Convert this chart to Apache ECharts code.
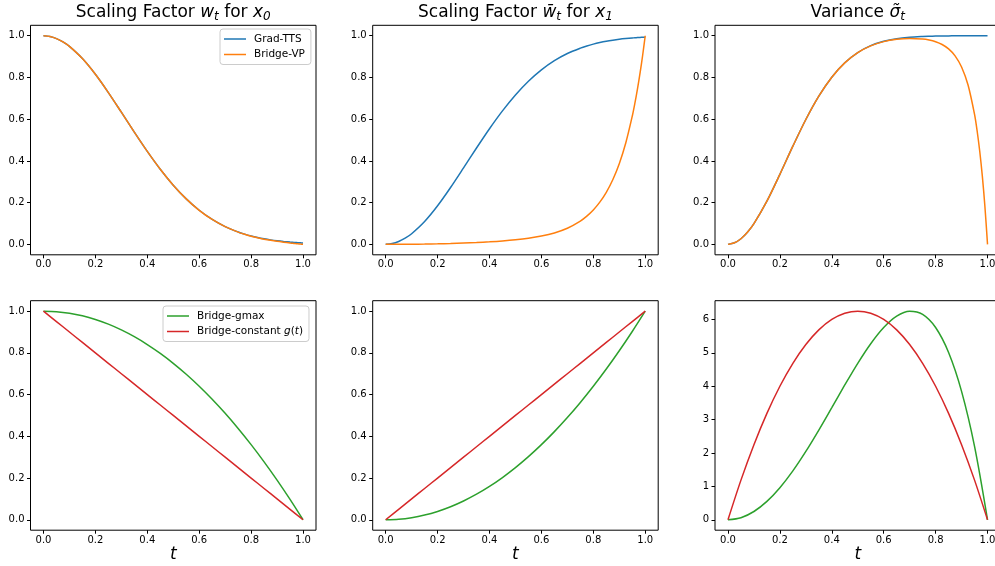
<!DOCTYPE html>
<html><head><meta charset="utf-8">
<script src="https://cdn.jsdelivr.net/npm/echarts@6/dist/echarts.min.js"></script>
<style>html,body{margin:0;padding:0;background:#fff}#c{width:995px;height:566px}</style>
</head><body><div id="c"></div>
<script>
// ---- data ----
const tTop = [0,0.025,0.05,0.075,0.1,0.15,0.2,0.25,0.3,0.35,0.4,0.45,0.5,0.55,0.6,0.65,0.7,0.75,0.775,0.8,0.825,0.85,0.875,0.9,0.925,0.95,0.96,0.97,0.98,0.99,1];
const gradW = [1,0.9963,0.9864,0.9705,0.9490,0.8905,0.8151,0.7276,0.6336,0.5381,0.4457,0.3602,0.2838,0.2182,0.1636,0.1196,0.0853,0.0594,0.0490,0.0403,0.0329,0.0267,0.0215,0.0172,0.0137,0.0108,0.0098,0.0089,0.0081,0.0074,0.0067];
const bridgeW = [1,0.9963,0.9864,0.9705,0.9490,0.8905,0.8151,0.7276,0.6336,0.5381,0.4457,0.3601,0.2837,0.2180,0.1633,0.1193,0.0848,0.0586,0.0481,0.0392,0.0315,0.0250,0.0194,0.0146,0.0105,0.0067,0.0054,0.0040,0.0027,0.0013,0];
const gradWbar = [0,0.0037,0.0136,0.0295,0.0510,0.1095,0.1849,0.2724,0.3664,0.4619,0.5543,0.6398,0.7162,0.7818,0.8364,0.8804,0.9147,0.9406,0.9510,0.9597,0.9671,0.9734,0.9785,0.9828,0.9863,0.9892,0.9902,0.9911,0.9919,0.9927,0.9933];
const bridgeWbar = [0,0.00005,0.0002,0.0004,0.0007,0.0015,0.0027,0.0043,0.0063,0.0088,0.0120,0.0161,0.0216,0.0291,0.0396,0.0548,0.0774,0.1117,0.1354,0.1649,0.2023,0.2495,0.3096,0.3866,0.4857,0.6141,0.6757,0.7441,0.8204,0.9053,1.0];
const gradVar = [0,0.0075,0.0271,0.0581,0.0994,0.2070,0.3357,0.4706,0.5986,0.7104,0.8013,0.8703,0.9194,0.9524,0.9732,0.9857,0.9927,0.9965,0.9976,0.9984,0.9989,0.9993,0.9995,0.9997,0.9998,0.9999,0.9999,0.9999,0.9999,0.99995,0.99996];
const bridgeVar = [0,0.0075,0.0271,0.0581,0.0994,0.2070,0.3357,0.4706,0.5986,0.7104,0.8013,0.8700,0.9190,0.9516,0.9717,0.9827,0.9867,0.9840,0.9793,0.9712,0.9580,0.9370,0.9037,0.8503,0.7639,0.6228,0.5434,0.4462,0.3270,0.1804,0];

const tBottom = [0,0.05,0.1,0.15,0.2,0.25,0.3,0.35,0.4,0.45,0.5,0.55,0.6,0.65,0.7,0.75,0.8,0.85,0.9,0.95,1];
const gmaxW = [1,0.9975,0.99,0.9775,0.96,0.9375,0.91,0.8775,0.84,0.7975,0.75,0.6975,0.64,0.5775,0.51,0.4375,0.36,0.2775,0.19,0.0975,0];
const constW = [1,0.95,0.9,0.85,0.8,0.75,0.7,0.65,0.6,0.55,0.5,0.45,0.4,0.35,0.3,0.25,0.2,0.15,0.1,0.05,0];
const gmaxWbar = [0,0.0025,0.01,0.0225,0.04,0.0625,0.09,0.1225,0.16,0.2025,0.25,0.3025,0.36,0.4225,0.49,0.5625,0.64,0.7225,0.81,0.9025,1];
const constWbar = [0,0.05,0.1,0.15,0.2,0.25,0.3,0.35,0.4,0.45,0.5,0.55,0.6,0.65,0.7,0.75,0.8,0.85,0.9,0.95,1];
const gmaxVar = [0,0.0623,0.2475,0.5498,0.96,1.4648,2.0475,2.6873,3.36,4.0373,4.6875,5.2748,5.76,6.0998,6.2475,6.1523,5.76,5.0123,3.8475,2.1998,0];
const constVar = [0,1.1875,2.25,3.1875,4,4.6875,5.25,5.6875,6,6.1875,6.25,6.1875,6,5.6875,5.25,4.6875,4,3.1875,2.25,1.1875,0];

const xTicks = [0,0.2,0.4,0.6,0.8,1.0];
const yTicksUnit = [0,0.2,0.4,0.6,0.8,1.0];
const yTicksVar = [0,1,2,3,4,5,6];

const topNames = ['Grad-TTS','Bridge-VP'];
const bottomNames = ['Bridge-gmax','Bridge-constant g(t)'];

// ---- layout / style ----
const FONT = 'DejaVu Sans';
const colLeft = [30.5, 372.7, 715];
const rowTop = [25.3, 300.7];
const W = 285.5, H = 229.5;
const C = {blue:'#1f77b4', orange:'#ff7f0e', green:'#2ca02c', red:'#d62728'};

const zip = (xs, ys) => xs.map((x,i)=>[x, ys[i]]);

const grids=[], xAxes=[], yAxes=[];
for (let r=0;r<2;r++) for (let c=0;c<3;c++) {
  const i = r*3+c;
  const isVar = (r===1 && c===2);
  grids.push({left:colLeft[c], top:rowTop[r], width:W, height:H, show:true,
    borderColor:'#000', borderWidth:1, backgroundColor:'transparent',
    containLabel:false, outerBoundsMode:'none'});
  xAxes.push({type:'value', gridIndex:i, min:-0.05, max:1.05, position:'bottom',
    axisLine:{show:false, onZero:false}, splitLine:{show:false},
    axisTick:{show:true, inside:false, customValues:xTicks, length:3.5, lineStyle:{color:'#000', width:1}},
    axisLabel:{customValues:xTicks, formatter:v=>v.toFixed(1), fontFamily:FONT, fontSize:10, color:'#000', margin:5},
    name: r===1 ? 't' : '', nameLocation:'middle', nameGap:15,
    nameTextStyle:{fontFamily:FONT, fontStyle:'italic', fontSize:17, color:'#000'}});
  const yt = isVar ? yTicksVar : yTicksUnit;
  yAxes.push({type:'value', gridIndex:i, position:'left',
    min: isVar ? -0.3125 : -0.05, max: isVar ? 6.5625 : 1.05,
    axisLine:{show:false, onZero:false}, splitLine:{show:false},
    axisTick:{show:true, inside:false, customValues:yt, length:3.5, lineStyle:{color:'#000', width:1}},
    axisLabel:{customValues:yt, formatter: v => isVar ? String(Math.round(v)) : v.toFixed(1),
      fontFamily:FONT, fontSize:10, color:'#000', margin:6}});
}

function line(name, idx, data, color){
  return {type:'line', name, xAxisIndex:idx, yAxisIndex:idx, data, color,
    symbol:'none', showSymbol:false, smooth:0.3, lineStyle:{width:1.5, color},
    emphasis:{disabled:true}, silent:true, animation:false};
}

const series = [
  line(topNames[0],0,zip(tTop,gradW),C.blue),
  line(topNames[1],0,zip(tTop,bridgeW),C.orange),
  line(topNames[0],1,zip(tTop,gradWbar),C.blue),
  line(topNames[1],1,zip(tTop,bridgeWbar),C.orange),
  line(topNames[0],2,zip(tTop,gradVar),C.blue),
  line(topNames[1],2,zip(tTop,bridgeVar),C.orange),
  line(bottomNames[0],3,zip(tBottom,gmaxW),C.green),
  line(bottomNames[1],3,zip(tBottom,constW),C.red),
  line(bottomNames[0],4,zip(tBottom,gmaxWbar),C.green),
  line(bottomNames[1],4,zip(tBottom,constWbar),C.red),
  line(bottomNames[0],5,zip(tBottom,gmaxVar),C.green),
  line(bottomNames[1],5,zip(tBottom,constVar),C.red)
];

const titleRich = {
  n:{fontFamily:FONT, fontSize:17, fontWeight:'normal', color:'#000', lineHeight:20},
  i:{fontFamily:FONT, fontSize:17, fontWeight:'normal', fontStyle:'italic', color:'#000', lineHeight:20},
  s:{fontFamily:FONT, fontSize:12, fontWeight:'normal', fontStyle:'italic', color:'#000', lineHeight:12, verticalAlign:'bottom'}
};
const titleTexts = [
  '{n|Scaling Factor }{i|w}{s|t}{n| for }{i|x}{s|0}',
  '{n|Scaling Factor }{i|w\u0304}{s|t}{n| for }{i|x}{s|1}',
  '{n|Variance }{i|\u03c3\u0303}{s|t}'
];

const legendText = {fontFamily:FONT, fontSize:10.5, color:'#000', padding:[0,0,0,3], lineHeight:12,
  rich:{n:{fontFamily:FONT, fontSize:10.5, color:'#000'}, i:{fontFamily:FONT, fontSize:10.5, fontStyle:'italic', color:'#000'}}};
const legendBase = {orient:'vertical', icon:'rect', itemWidth:22, itemHeight:1.5, itemGap:3.5,
  padding:[4,6,4,4], borderColor:'#cccccc', borderWidth:1, borderRadius:3,
  backgroundColor:'rgba(255,255,255,0.8)', selectedMode:false, textStyle:legendText};

const option = {
  backgroundColor:'#fff',
  animation:false,
  title: titleTexts.map((t,c)=>({text:t, left:colLeft[c]+W/2, top:3, textAlign:'center', padding:0,
    textStyle:{fontWeight:'normal', fontFamily:FONT, rich:titleRich}})),
  legend:[
    Object.assign({}, legendBase, {data:topNames, left:220, top:29}),
    Object.assign({}, legendBase, {data:bottomNames, left:163, top:306,
      formatter: n => n === bottomNames[1] ? '{n|Bridge-constant }{i|g}{n|(}{i|t}{n|)}' : n})
  ],
  grid:grids, xAxis:xAxes, yAxis:yAxes, series
};
const chart = echarts.init(document.getElementById('c'), null, {renderer:'canvas'});
chart.setOption(option);
</script></body></html>
